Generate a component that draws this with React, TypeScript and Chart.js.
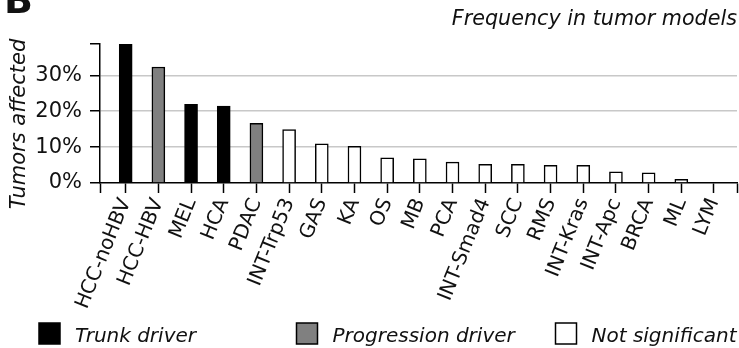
import React, { useEffect, useRef } from "react";
import { Chart, registerables } from "chart.js";

Chart.register(...registerables);

const categories = [
  "HCC-noHBV", "HCC-HBV", "MEL", "HCA", "PDAC", "INT-Trp53", "GAS", "KA", "OS", "MB",
  "PCA", "INT-Smad4", "SCC", "RMS", "INT-Kras", "INT-Apc", "BRCA", "ML", "LYM",
];
const frequencies = [
  38.6, 32.3, 21.9, 21.4, 16.6, 14.9, 10.9, 10.2, 7.0, 6.7,
  5.8, 5.2, 5.2, 4.9, 4.9, 3.1, 2.8, 1.0, 0,
];
// 0 = trunk driver, 1 = progression driver, 2 = not significant
const driverClass = [0, 1, 0, 0, 1, 2, 2, 2, 2, 2, 2, 2, 2, 2, 2, 2, 2, 2, 2];
const classLabels = ["Trunk driver", "Progression driver", "Not significant"];
const classColors = ["#000000", "#808080", "#ffffff"];
const yTickValues = [0, 10, 20, 30];
const yMax = 38.7;
const xMin = -0.786;
const xMax = 18.704;

const FONT = "DejaVu Sans";

const extrasPlugin = {
  id: "extras",
  afterDraw(chart: any) {
    const ctx = chart.ctx;
    ctx.save();
    // panel letter
    ctx.fillStyle = "#111";
    ctx.font = `bold 38px '${FONT}'`;
    ctx.textAlign = "left";
    ctx.textBaseline = "alphabetic";
    ctx.fillText("B", 4, 13);
    // y axis title
    ctx.save();
    ctx.translate(24.5, 124);
    ctx.rotate(-Math.PI / 2);
    ctx.font = `italic 21px '${FONT}'`;
    ctx.textAlign = "center";
    ctx.fillText("Tumors affected", 0, 0);
    ctx.restore();
    // legend
    const sqX = [39, 296.5, 555.5];
    ctx.font = `italic 20px '${FONT}'`;
    ctx.lineWidth = 1.5;
    classLabels.forEach((lab, i) => {
      ctx.fillStyle = classColors[i];
      ctx.fillRect(sqX[i], 323, 21, 21);
      ctx.strokeStyle = "#000";
      ctx.strokeRect(sqX[i], 323, 21, 21);
      ctx.fillStyle = "#111";
      ctx.textAlign = "left";
      ctx.fillText(lab, sqX[i] + 36, 341.5);
    });
    ctx.restore();
  },
};

export default function App() {
  const ref = useRef<HTMLCanvasElement | null>(null);
  useEffect(() => {
    if (!ref.current) return;
    const chart = new Chart(ref.current, {
      type: "bar",
      data: {
        datasets: [
          {
            data: frequencies.map((v, i) => ({ x: i, y: v })),
            backgroundColor: driverClass.map((c) => classColors[c]),
            borderColor: "#000",
            borderWidth: 1.5,
            barThickness: 13,
          },
        ],
      },
      options: {
        responsive: false,
        animation: false,
        layout: { padding: { left: 0, right: 2, top: 0, bottom: 0 } },
        plugins: {
          legend: { display: false },
          tooltip: { enabled: false },
          title: {
            display: true,
            text: "Frequency in tumor models",
            align: "end",
            color: "#111",
            font: { family: FONT, size: 20.7, style: "italic", weight: "normal", lineHeight: 1.2 },
            padding: { top: 7, bottom: 12.2 },
          },
        },
        scales: {
          x: {
            type: "linear",
            offset: false,
            min: xMin,
            max: xMax,
            afterBuildTicks(scale: any) {
              scale.ticks = [xMin, ...categories.map((_, i) => i), xMax].map((v) => ({ value: v }));
            },
            afterFit(scale: any) {
              scale.height = 165;
              scale.paddingLeft = 0;
              scale.paddingRight = 0;
            },
            ticks: {
              autoSkip: false,
              minRotation: 68,
              maxRotation: 68,
              padding: 2,
              color: "#111",
              font: { family: FONT, size: 20 },
              callback: (v: any) => {
                const n = Number(v);
                return Number.isInteger(n) && n >= 0 && n < categories.length ? categories[n] : "";
              },
            },
            grid: {
              offset: false,
              drawOnChartArea: false,
              tickLength: 10,
              tickColor: "#000",
              tickWidth: 1.5,
              color: "#000",
            },
            border: { color: "#000", width: 1.5 },
          },
          y: {
            min: 0,
            max: yMax,
            afterBuildTicks(scale: any) {
              scale.ticks = [...yTickValues, yMax].map((v) => ({ value: v }));
            },
            afterFit(scale: any) {
              scale.width = 100;
              scale.paddingTop = 0;
              scale.paddingBottom = 0;
            },
            ticks: {
              padding: 8,
              color: "#111",
              font: { family: FONT, size: 21 },
              callback: (v: any) => (yTickValues.includes(Number(v)) ? `${v}%` : ""),
            },
            grid: {
              color: (c: any) =>
                c.tick && c.tick.value > 0 && c.tick.value < yMax ? "#c8c8c8" : "rgba(0,0,0,0)",
              lineWidth: 1.5,
              tickLength: 10,
              tickColor: "#000",
              tickWidth: 1.5,
            },
            border: { color: "#000", width: 1.5 },
          },
        },
      },
      plugins: [extrasPlugin],
    } as any);
    return () => chart.destroy();
  }, []);
  return (
    <div style={{ position: "absolute", left: 0, top: 0, width: 739, height: 348, background: "#fff" }}>
      <canvas ref={ref} width={739} height={348} />
    </div>
  );
}
